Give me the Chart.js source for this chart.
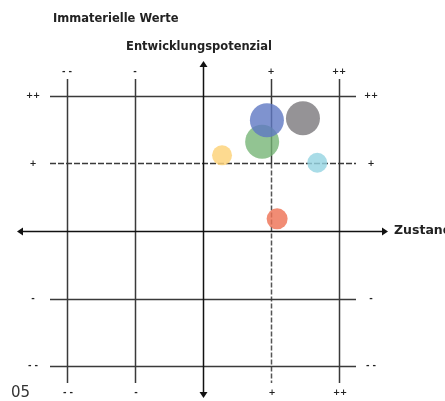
<!DOCTYPE html>
<html>
<head>
<meta charset="utf-8">
<script src="https://cdn.jsdelivr.net/npm/chart.js@4/dist/chart.umd.min.js"></script>
<style>
  html, body { margin: 0; padding: 0; background: #fff; }
  #wrap { position: relative; width: 445px; height: 401px; }
</style>
</head>
<body>
<div id="wrap"><canvas id="matrix" width="445" height="401"></canvas></div>
<script>
'use strict';

// ============================================================
// Daten
// ============================================================

const chartTitle = 'Immaterielle Werte';
const yAxisTitle = 'Entwicklungspotenzial';
const xAxisTitle = 'Zustand';
const pageNumber = '05';

// Rasterpositionen und Beschriftungen
const xTicks = [-2, -1, 1, 2];
const xTickLabels = ['- -', '-', '+', '++'];
const yTicks = [2, 1, -1, -2];
const yTickLabels = ['++', '+', '-', '- -'];

// Blasen (Reihenfolge = Zeichenreihenfolge)
const bubbleNames = ['Grau', 'Blau', 'Grün', 'Gelb', 'Türkis', 'Rot'];
const bubbleX = [1.47, 0.94, 0.87, 0.28, 1.68, 1.09];
const bubbleY = [1.67, 1.64, 1.32, 1.12, 1.01, 0.18];
const bubbleR = [17, 17, 17, 10, 10, 10.5];
const bubbleColors = [
    'rgba(122, 120, 124, 0.80)',
    'rgba(95, 120, 195, 0.80)',
    'rgba(115, 180, 115, 0.78)',
    'rgba(253, 212, 125, 0.85)',
    'rgba(150, 212, 226, 0.82)',
    'rgba(238, 115, 85, 0.82)'
];

// ============================================================
// Raster / Achsen / Texte
// ============================================================

const LINE = '#3a3a3a';
const FONT = '"DejaVu Sans", sans-serif';

function arrowHead(ctx, x, y, dir) {
    // dir: 'l' | 'r' | 'u' | 'd'
    const s = 6, w = 4;
    ctx.beginPath();
    if (dir === 'l') { ctx.moveTo(x, y); ctx.lineTo(x + s, y - w); ctx.lineTo(x + s, y + w); }
    if (dir === 'r') { ctx.moveTo(x, y); ctx.lineTo(x - s, y - w); ctx.lineTo(x - s, y + w); }
    if (dir === 'u') { ctx.moveTo(x, y); ctx.lineTo(x - w, y + s); ctx.lineTo(x + w, y + s); }
    if (dir === 'd') { ctx.moveTo(x, y); ctx.lineTo(x - w, y - s); ctx.lineTo(x + w, y - s); }
    ctx.closePath();
    ctx.fill();
}

const matrixPlugin = {
    id: 'matrix',
    beforeDatasetsDraw(chart) {
        const { ctx, chartArea: a, scales: { x, y } } = chart;
        ctx.save();
        ctx.strokeStyle = LINE;
        ctx.lineWidth = 1.5;

        // vertikale Rasterlinien
        xTicks.forEach(v => {
            const px = Math.round(x.getPixelForValue(v)) + 0.5;
            if (v === 1) {
                const ySplit = y.getPixelForValue(1);
                ctx.setLineDash([]);
                ctx.beginPath(); ctx.moveTo(px, a.top); ctx.lineTo(px, ySplit); ctx.stroke();
                ctx.setLineDash([5, 2]);
                ctx.strokeStyle = '#555';
                ctx.beginPath(); ctx.moveTo(px, ySplit); ctx.lineTo(px, a.bottom); ctx.stroke();
                ctx.strokeStyle = LINE;
                ctx.setLineDash([]);
            } else {
                ctx.beginPath(); ctx.moveTo(px, a.top); ctx.lineTo(px, a.bottom); ctx.stroke();
            }
        });

        // horizontale Rasterlinien
        yTicks.forEach(v => {
            const py = Math.round(y.getPixelForValue(v)) + 0.5;
            ctx.setLineDash(v === 1 ? [6, 2] : []);
            ctx.beginPath(); ctx.moveTo(a.left, py); ctx.lineTo(a.right, py); ctx.stroke();
        });
        ctx.setLineDash([]);

        // Hauptachsen mit Pfeilen
        const x0 = Math.round(x.getPixelForValue(0)) + 0.5;
        const y0 = Math.round(y.getPixelForValue(0)) + 0.5;
        const left = a.left - 33, right = a.right + 32;
        const top = a.top - 18, bottom = a.bottom + 15;
        ctx.strokeStyle = '#111';
        ctx.fillStyle = '#111';
        ctx.beginPath(); ctx.moveTo(left + 3, y0); ctx.lineTo(right - 3, y0); ctx.stroke();
        ctx.beginPath(); ctx.moveTo(x0, top + 3); ctx.lineTo(x0, bottom - 3); ctx.stroke();
        arrowHead(ctx, left, y0, 'l');
        arrowHead(ctx, right, y0, 'r');
        arrowHead(ctx, x0, top, 'u');
        arrowHead(ctx, x0, bottom, 'd');
        ctx.restore();
    },
    afterDraw(chart) {
        const { ctx, chartArea: a, scales: { x, y } } = chart;
        ctx.save();
        ctx.fillStyle = '#222';
        ctx.textBaseline = 'middle';

        // Tick-Beschriftungen oben / unten
        ctx.font = 'bold 8.5px ' + FONT;
        ctx.textAlign = 'center';
        xTicks.forEach((v, i) => {
            const px = x.getPixelForValue(v);
            ctx.fillText(xTickLabels[i], px, a.top - 7);
            ctx.fillText(xTickLabels[i], px + 1, a.bottom + 10);
        });
        // links / rechts
        yTicks.forEach((v, i) => {
            const py = y.getPixelForValue(v);
            ctx.fillText(yTickLabels[i], a.left - 17, py);
            ctx.fillText(yTickLabels[i], a.right + 15, py);
        });

        // Titel
        ctx.font = 'bold 11.5px ' + FONT;
        ctx.textAlign = 'left';
        ctx.fillText(chartTitle, 53, 19);
        ctx.font = 'bold 11.5px ' + FONT;
        ctx.textAlign = 'center';
        ctx.fillText(yAxisTitle, x.getPixelForValue(0) - 4, 47);
        ctx.textAlign = 'left';
        ctx.font = 'bold 12.5px ' + FONT;
        ctx.fillText(xAxisTitle, a.right + 38, y.getPixelForValue(0));

        // Seitenzahl
        ctx.font = '15px ' + FONT;
        ctx.fillStyle = '#333';
        ctx.fillText(pageNumber, 11, 393);
        ctx.restore();
    }
};

// ============================================================
// Diagramm
// ============================================================

const datasets = bubbleNames.map((name, i) => ({
    label: name,
    data: [{ x: bubbleX[i], y: bubbleY[i], r: bubbleR[i] }],
    backgroundColor: bubbleColors[i],
    borderWidth: 0,
    hoverRadius: 0
}));

new Chart(document.getElementById('matrix'), {
    type: 'bubble',
    data: { datasets },
    options: {
        responsive: false,
        animation: false,
        layout: { padding: { left: 50, right: 89, top: 79, bottom: 18 } },
        plugins: {
            legend: { display: false },
            tooltip: { enabled: false }
        },
        scales: {
            x: { type: 'linear', min: -2.25, max: 2.25, display: false },
            y: { type: 'linear', min: -2.25, max: 2.25, display: false }
        },
        clip: false
    },
    plugins: [matrixPlugin]
});
</script>
</body>
</html>
